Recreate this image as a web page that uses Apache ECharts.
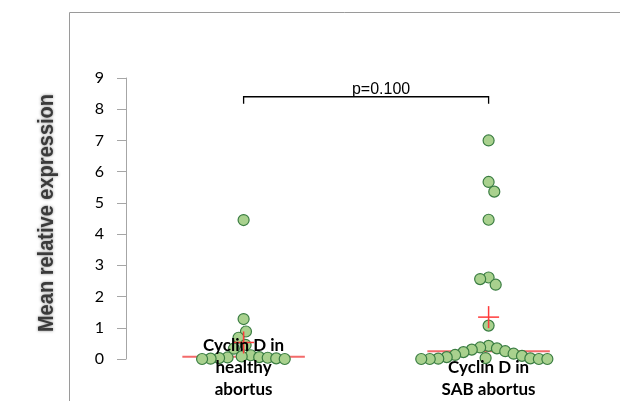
<!DOCTYPE html>
<html>
<head>
<meta charset="utf-8">
<script src="https://cdn.jsdelivr.net/npm/echarts@6/dist/echarts.min.js"></script>
<style>
  html, body { margin: 0; padding: 0; background: #fff; }
  #chart { width: 620px; height: 401px; }
</style>
</head>
<body>
<div id="chart"></div>
<script>
// Groups shown on the x axis
const categories = ['Cyclin D in\nhealthy\nabortus', 'Cyclin D in\nSAB abortus'];

// Mean relative expression of each sample
const healthyValues = [4.45, 1.28, 0.88, 0.68, 0.45, 0.33, 0.12, 0.08, 0.06, 0.05, 0.04, 0.03, 0.02, 0.01, 0, 0];
const sabValues = [7.0, 5.67, 5.36, 4.46, 2.61, 2.56, 2.38, 1.07,
  0.42, 0.37, 0.34, 0.30, 0.25, 0.22, 0.17, 0.13, 0.10, 0.06, 0.03, 0.02, 0.01, 0, 0, 0, 0];

// Y axis ticks
const yTicks = [0, 1, 2, 3, 4, 5, 6, 7, 8, 9];

// Significance annotation between the two groups
const pValueText = 'p=0.100';
const bracketLevel = 8.4;

const yAxisTitle = 'Mean relative expression';

const groups = [healthyValues, sabValues];

function mean(arr) { return arr.reduce((s, v) => s + v, 0) / arr.length; }
function median(arr) {
  const s = arr.slice().sort((a, b) => a - b);
  const m = Math.floor(s.length / 2);
  return s.length % 2 ? s[m] : (s[m - 1] + s[m]) / 2;
}

const chart = echarts.init(document.getElementById('chart'), null, { renderer: 'canvas' });

const GREEN_FILL = '#a9d18e';
const GREEN_EDGE = '#3a7d42';
const RED = '#ff3b3b';
const AXIS_GREY = '#a6a6a6';

const baseOption = {
  animation: false,
  backgroundColor: '#ffffff',
  grid: { left: 126, top: 78, width: 490, height: 288, containLabel: false },
  xAxis: {
    type: 'value',
    min: 0.52,
    max: 2.52,
    z: 10,
    axisLine: { show: false },
    axisTick: { show: false },
    splitLine: { show: false },
    axisLabel: {
      customValues: [1, 2],
      formatter: v => categories[Math.round(v) - 1] || '',
      margin: 42,
      verticalAlign: 'bottom',
      lineHeight: 22,
      fontSize: 17,
      fontWeight: 'bold',
      fontFamily: 'Lato',
      color: '#000'
    }
  },
  yAxis: {
    type: 'value',
    min: yTicks[0],
    max: yTicks[yTicks.length - 1],
    interval: yTicks[1] - yTicks[0],
    axisLine: { show: true, lineStyle: { color: AXIS_GREY, width: 1 } },
    axisTick: { show: true, inside: false, length: 9, lineStyle: { color: AXIS_GREY } },
    splitLine: { show: false },
    axisLabel: { margin: 22, fontSize: 16, fontFamily: 'Lato', color: '#000' }
  },
  graphic: [
    {
      type: 'polyline',
      shape: { points: [[69.5, 401], [69.5, 12.5], [620, 12.5]] },
      style: { stroke: '#9a9a9a', lineWidth: 1, fill: null },
      silent: true
    },
    {
      type: 'text',
      x: 47,
      y: 213,
      rotation: Math.PI / 2,
      scaleX: 0.91,
      style: {
        text: yAxisTitle,
        font: 'bold 22px "Liberation Sans", Arial, sans-serif',
        fill: '#3a3a3a',
        textAlign: 'center',
        textVerticalAlign: 'middle',
        textShadowColor: 'rgba(60,60,60,0.6)',
        textShadowBlur: 3
      },
      silent: true
    }
  ],
  series: []
};

chart.setOption(baseOption);

// Pixel scale of the axes, used to spread points sideways without overlap
const o = chart.convertToPixel({ gridIndex: 0 }, [1, 0]);
const u = chart.convertToPixel({ gridIndex: 0 }, [2, 1]);
const pxPerX = u[0] - o[0];
const pxPerY = o[1] - u[1];

// Beeswarm layout: highest values first, each point as close to the centre as it can sit
function swarmOffsets(values, dxMin, dyMin) {
  const order = values.map((v, i) => i).sort((a, b) => values[b] - values[a]);
  const placed = [];
  const result = [];
  order.forEach(idx => {
    const y = values[idx] * pxPerY;
    const cands = [0];
    placed.forEach(p => {
      const t = (y - p.y) / dyMin;
      if (Math.abs(t) < 1) {
        const w = dxMin * Math.sqrt(1 - t * t) + 0.01;
        cands.push(p.x + w, p.x - w);
      }
    });
    const ok = c => placed.every(p => {
      const a = (c - p.x) / dxMin, b = (y - p.y) / dyMin;
      return a * a + b * b >= 0.999;
    });
    const balance = placed.reduce((s, p) => s + p.x, 0);
    let best = null;
    cands.filter(ok).forEach(c => {
      if (best === null) { best = c; return; }
      const dc = Math.abs(c), db = Math.abs(best);
      if (dc < db - 0.3) best = c;
      else if (Math.abs(dc - db) <= 0.3) {
        // equal distance: lean to the lighter side
        if ((balance > 0 && c < best) || (balance <= 0 && c > best)) best = c;
      }
    });
    placed.push({ x: best, y: y });
    result.push({ value: values[idx], offset: best });
  });
  return result;
}

const pointData = [];
groups.forEach((vals, gi) => {
  swarmOffsets(vals, 8.5, 13).forEach(p => {
    pointData.push([gi + 1 + p.offset / pxPerX, p.value]);
  });
});

const medianData = groups.map((vals, gi) => [gi + 1, median(vals)]);
const meanData = groups.map((vals, gi) => [gi + 1, mean(vals)]);

chart.setOption({
  series: [
    {
      type: 'custom',
      name: 'median',
      z: 1,
      data: medianData,
      encode: { x: 0, y: 1 },
      renderItem: (params, api) => {
        const c = api.coord([api.value(0), api.value(1)]);
        const half = api.size([0.25, 0])[0];
        return {
          type: 'line',
          shape: { x1: c[0] - half, y1: c[1], x2: c[0] + half, y2: c[1] },
          style: { stroke: '#f36a6a', lineWidth: 2 }
        };
      }
    },
    {
      type: 'scatter',
      name: 'samples',
      z: 2,
      clip: false,
      data: pointData,
      symbol: 'circle',
      symbolSize: 11,
      itemStyle: { color: GREEN_FILL, borderColor: GREEN_EDGE, borderWidth: 1.2, opacity: 1 }
    },
    {
      type: 'custom',
      name: 'mean',
      z: 3,
      data: meanData,
      encode: { x: 0, y: 1 },
      renderItem: (params, api) => {
        const c = api.coord([api.value(0), api.value(1)]);
        return {
          type: 'group',
          children: [
            { type: 'line', shape: { x1: c[0] - 10.5, y1: c[1], x2: c[0] + 10.5, y2: c[1] }, style: { stroke: RED, lineWidth: 1.5 } },
            { type: 'line', shape: { x1: c[0], y1: c[1] - 11, x2: c[0], y2: c[1] + 11 }, style: { stroke: RED, lineWidth: 1.5 } }
          ]
        };
      }
    },
    {
      type: 'custom',
      name: 'bracket',
      z: 4,
      data: [[1, 2, bracketLevel]],
      encode: { x: [0, 1], y: 2 },
      renderItem: (params, api) => {
        const a = api.coord([api.value(0), api.value(2)]);
        const b = api.coord([api.value(1), api.value(2)]);
        return {
          type: 'group',
          children: [
            {
              type: 'polyline',
              shape: { points: [[a[0], a[1] + 7], [a[0], a[1]], [b[0], b[1]], [b[0], b[1] + 7]] },
              style: { stroke: '#000', lineWidth: 1.3, fill: null }
            },
            {
              type: 'text',
              x: (a[0] + b[0]) / 2 + 15,
              y: a[1] + 1,
              style: {
                text: pValueText,
                font: '16px "Liberation Sans", Arial, sans-serif',
                fill: '#000',
                textAlign: 'center',
                textVerticalAlign: 'bottom'
              }
            }
          ]
        };
      }
    }
  ]
});
</script>
</body>
</html>
